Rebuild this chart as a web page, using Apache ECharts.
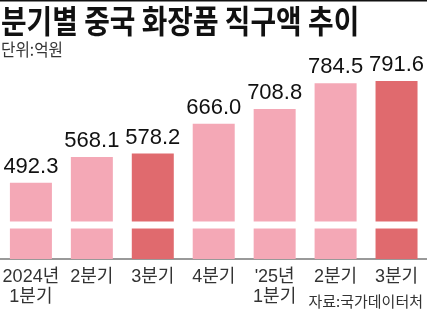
<!DOCTYPE html>
<html><head><meta charset="utf-8">
<script src="https://cdn.jsdelivr.net/npm/echarts@6/dist/echarts.min.js"></script>
<style>html,body{margin:0;padding:0;background:#fff}#c{width:427px;height:318px}</style>
</head><body><div id="c"></div>
<script>
const categories = ['2024년\n1분기', '2분기', '3분기', '4분기', "'25년\n1분기", '2분기', '3분기'];
const values = [492.3, 568.1, 578.2, 666.0, 708.8, 784.5, 791.6];
const highlight = [false, false, true, false, false, false, true];
const titleText = '분기별 중국 화장품 직구액 추이';
const unitText = '단위:억원';
const sourceText = '자료:국가데이터처';

const LIGHT = '#F4A8B6', DARK = '#E06A6E';
const chart = echarts.init(document.getElementById('c'), null, {renderer: 'canvas'});
chart.setOption({
  animation: false,
  backgroundColor: '#fff',
  grid: {left: -2, right: -3, top: 61, bottom: 59},
  xAxis: {
    type: 'category', data: categories,
    axisLine: {lineStyle: {color: '#777', width: 1.5}},
    axisTick: {show: false},
    axisLabel: {color: '#333', fontSize: 18, lineHeight: 20, margin: 8,
      fontFamily: 'Liberation Sans, Noto Sans CJK KR', interval: 0}
  },
  yAxis: {
    type: 'value', min: 0, max: 850,
    axisLine: {show: false}, axisTick: {show: false},
    axisLabel: {show: false}, splitLine: {show: false},
    breaks: [{start: 91, end: 380, gap: 20.6}],
    breakArea: {show: true, zigzagAmplitude: 0, zigzagZ: 100, expandOnClick: false,
      itemStyle: {color: '#fff', borderWidth: 0, opacity: 1}}
  },
  series: [{
    type: 'bar', barWidth: 42,
    data: values.map((v, i) => ({value: v, itemStyle: {color: highlight[i] ? DARK : LIGHT}})),
    label: {show: true, position: 'top', distance: 5, color: '#111', fontSize: 22,
      fontFamily: 'Liberation Sans', formatter: p => p.value.toFixed(1)}
  }],
  graphic: [
    {type: 'rect', shape: {x: 0, y: 0, width: 427, height: 1.5}, style: {fill: '#111'}},
    {type: 'text', x: 1, y: 5, scaleX: 0.87,
      style: {text: titleText, fontSize: 32, fontWeight: 'bold', fill: '#111',
        fontFamily: 'Noto Sans CJK KR'}},
    {type: 'text', x: 1, y: 41, scaleX: 0.92,
      style: {text: unitText, fontSize: 17, fill: '#333', fontFamily: 'Noto Sans CJK KR'}},
    {type: 'text', right: 4, top: 294,
      style: {text: sourceText, fontSize: 15, fill: '#333', fontFamily: 'Noto Sans CJK KR'}}
  ]
});
</script></body></html>
